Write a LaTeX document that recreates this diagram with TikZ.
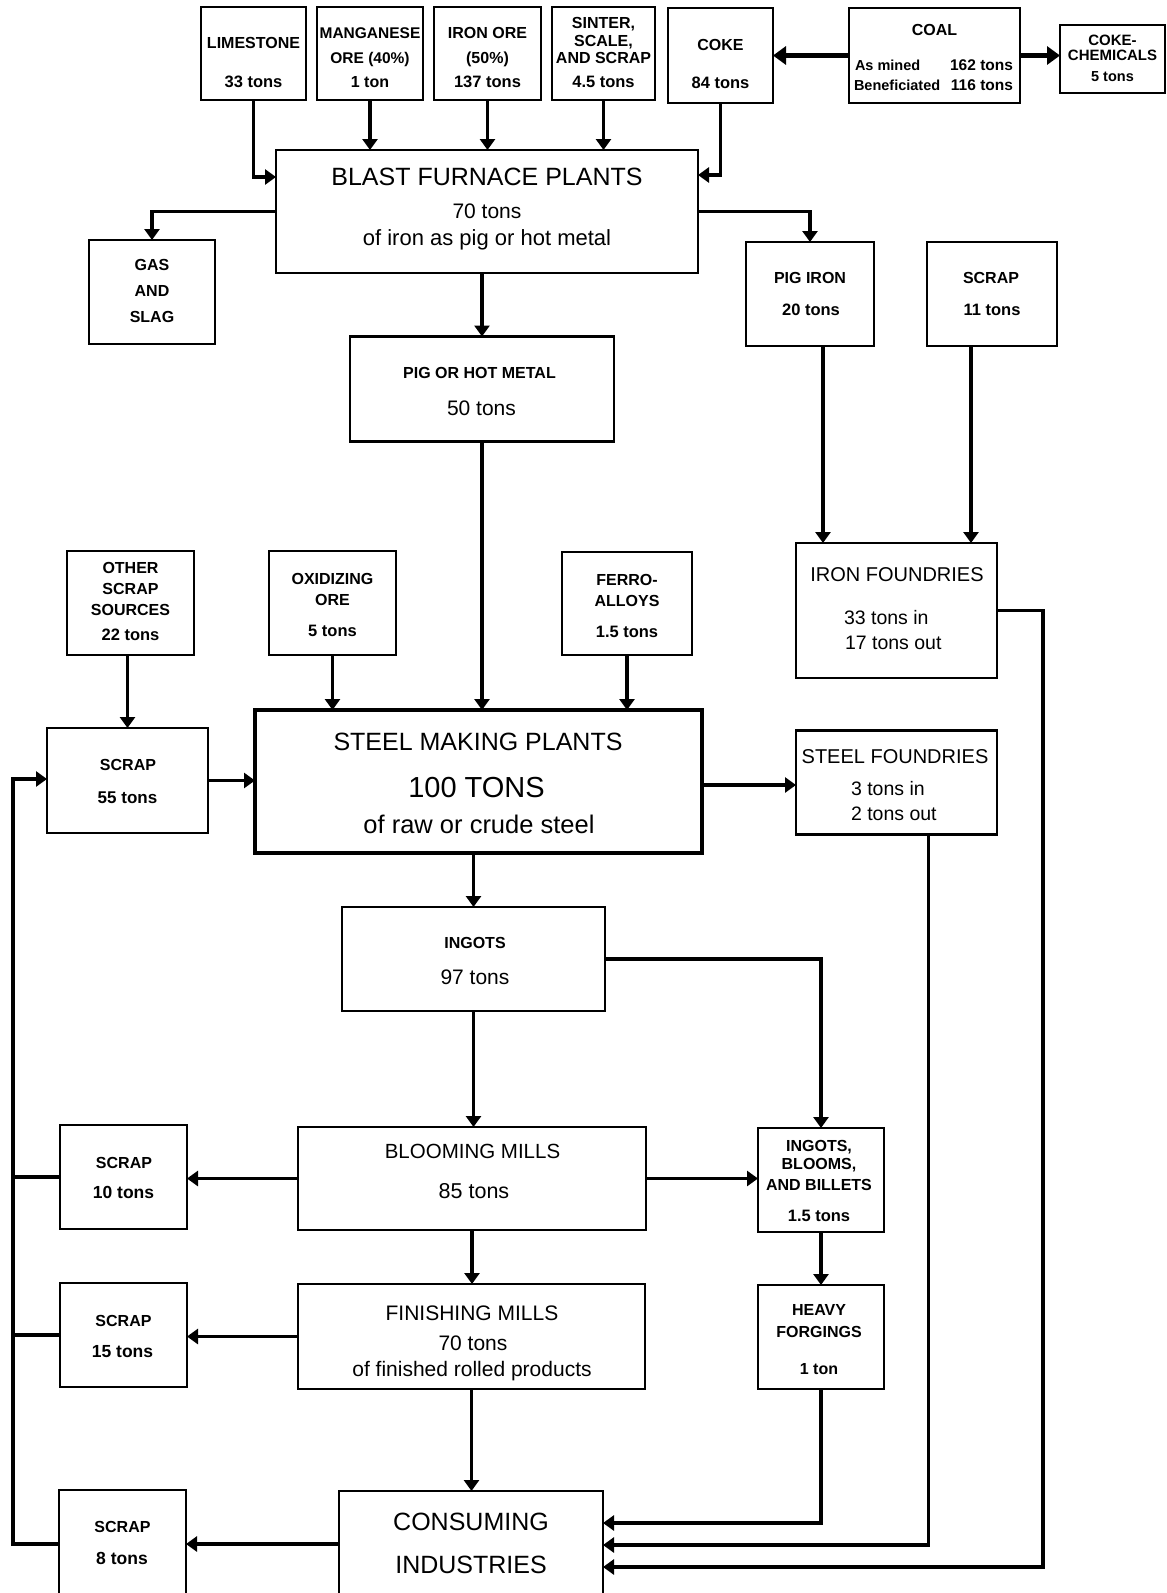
\documentclass[tikz,border=0pt]{standalone}
\usepackage{fontspec}
\setmainfont{Liberation Sans}
\usetikzlibrary{arrows.meta}
\newcounter{tlc}
\newcommand\txtline[5][base]{\stepcounter{tlc}\node[tx,anchor=#1,font=\fontsize{#4pt}{#4pt}\selectfont] (t\the\value{tlc}) at (#2,#3) {#5};}
\newcommand\txtbold[5][base]{\stepcounter{tlc}\node[tx,anchor=#1,font=\fontsize{#4pt}{#4pt}\selectfont\bfseries] (t\the\value{tlc}) at (#2,#3) {#5};}
\newcommand\bx[6][]{\node[box,#1,minimum width=#5pt,minimum height=#6pt] (#2) at (#3,#4) {};}
\tikzset{
  box/.style={draw, rectangle, line width=2.2pt, inner sep=0pt, outer sep=0pt},
  tx/.style={inner sep=0pt, outer sep=0pt},
  conn/.style={line width=3.2pt, -{Triangle[width=15pt,length=11pt]}},
  heavyconn/.style={line width=4.5pt, -{Triangle[width=18pt,length=13pt]}},
  plain/.style={line width=3.2pt},
}
\begin{document}
\begin{tikzpicture}[x=1pt,y=-1pt]
\useasboundingbox (0,0) rectangle (1167,1593);
\clip (0,0) rectangle (1167,1593);
% boxes
\bx{lime}{253.5}{53.5}{105}{93}
\bx{mang}{370}{53.5}{106}{93}
\bx{ironore}{487.5}{53.5}{107}{93}
\bx{sinter}{603.5}{53.5}{103}{93}
\bx{coke}{720.5}{55.5}{105}{95}
\bx{coal}{934.5}{55.5}{171}{95}
\bx{chem}{1112.5}{59}{105}{68}
\bx{bf}{487}{211.5}{422}{123}
\bx{gas}{152}{292}{126}{104}
\bx{pigiron}{810}{294}{128}{104}
\bx{scrapb}{992}{294}{130}{104}
\bx{pighot}{482}{389}{264}{105}
\bx{othersc}{130.5}{603}{127}{104}
\bx{oxid}{332.5}{603}{127}{104}
\bx{ferro}{627}{603.5}{130}{103}
\bx{ironf}{896.5}{610.5}{201}{135}
\bx{scrapa}{127.5}{780.5}{161}{105}
\bx[line width=4pt]{smp}{478.5}{781.5}{447}{143}
\bx{steelf}{896.5}{782.5}{201}{104}
\bx{ingots}{473.5}{959}{263}{104}
\bx{scrapc}{123.5}{1177}{127}{104}
\bx{bloom}{472}{1178.5}{348}{103}
\bx{ibb}{821}{1180}{126}{104}
\bx{scrapd}{123.5}{1335}{127}{104}
\bx{finish}{471.5}{1336.5}{347}{105}
\bx{hf}{821}{1337}{126}{104}
\bx{scrape}{122.5}{1547.5}{127}{115}
\bx{consum}{471}{1548}{264}{114}
% connectors
\draw[conn] (lime.south) |- (bf.west |- 0,177);
\draw[conn] (mang.south) -- (mang.south |- bf.north);
\draw[conn] (ironore.south) -- (ironore.south |- bf.north);
\draw[conn] (sinter.south) -- (sinter.south |- bf.north);
\draw[conn] (coke.south) |- (bf.east |- 0,175);
\draw[heavyconn] (coal.west) -- (coke.east);
\draw[heavyconn] (coal.east) -- (chem.west |- coal.east);
\draw[conn] (bf.west) -| (gas.north);
\draw[conn] (bf.east) -| (pigiron.north);
\draw[conn] (pighot.north |- bf.south) -- (pighot.north);
\draw[conn] (pighot.south) -- (pighot.south |- smp.north);
\coordinate (pa) at ([xshift=13pt]pigiron.south);
\draw[conn] (pa) -- (pa |- ironf.north);
\coordinate (sb) at ([xshift=-21pt]scrapb.south);
\draw[conn] (sb) -- (sb |- ironf.north);
\draw[conn] (scrapa.north |- othersc.south) -- (scrapa.north);
\draw[conn] (oxid.south) -- (oxid.south |- smp.north);
\draw[conn] (ferro.south) -- (ferro.south |- smp.north);
\draw[conn] (scrapa.east) -- (smp.west |- scrapa.east);
\draw[conn] (smp.east |- 0,785) -- (steelf.west |- 0,785);
\draw[conn] (ingots.north |- smp.south) -- (ingots.north);
\draw[conn] (ingots.south) -- (ingots.south |- bloom.north);
\draw[conn] (ingots.east) -| (ibb.north);
\draw[conn] (bloom.west) -- (scrapc.east |- bloom.west);
\draw[conn] (bloom.east) -- (ibb.west |- bloom.east);
\draw[conn] (bloom.south) -- (bloom.south |- finish.north);
\draw[conn] (finish.west) -- (scrapd.east |- finish.west);
\draw[conn] (ibb.south) -- (hf.north);
\draw[conn] (finish.south) -- (finish.south |- consum.north);
\draw[conn] (hf.south) |- (consum.east |- 0,1523);
\coordinate (sfa) at ([xshift=32pt]steelf.south);
\draw[conn] (sfa) |- (consum.east |- 0,1545);
\coordinate (ifa) at (1043,1567);
\draw[conn] (ironf.east) -| (ifa) -- (consum.east |- ifa);
\draw[conn] (consum.west |- 0,1544) -- (scrape.east |- 0,1544);
\coordinate (fb) at (13,779);
\draw[conn] (scrape.west |- 0,1544) -| (fb) -- (scrapa.west |- fb);
\draw[plain] (scrapc.west) -- (fb |- scrapc.west);
\draw[plain] (scrapd.west) -- (fb |- scrapd.west);
% texts
\txtbold{253.5}{48}{16}{LIMESTONE}
\txtbold{253.5}{87}{16.5}{33 tons}
\txtbold{370}{38}{15.5}{MANGANESE}
\txtbold{370}{63}{15.5}{ORE (40\%)}
\txtbold{370}{87}{16}{1 ton}
\txtbold{487.5}{38}{16}{IRON ORE}
\txtbold{487.5}{63}{16}{(50\%)}
\txtbold{487.5}{87}{16.5}{137 tons}
\txtbold{603.5}{28}{16}{SINTER,}
\txtbold{603.5}{46.5}{16}{SCALE,}
\txtbold{603.5}{63}{16}{AND SCRAP}
\txtbold{603.5}{87}{16.5}{4.5 tons}
\txtbold{720.5}{50}{16}{COKE}
\txtbold{720.5}{88}{16.5}{84 tons}
\txtbold{934.5}{35}{16}{COAL}
\txtbold[base west]{855}{70}{14.5}{As mined}
\txtbold[base east]{1013}{70}{15.5}{162 tons}
\txtbold[base west]{854}{90.5}{14.5}{Beneficiated}
\txtbold[base east]{1013}{90.5}{15.5}{116 tons}
\txtbold{1112.5}{45}{15}{COKE-}
\txtbold{1112.5}{60}{15}{CHEMICALS}
\txtbold{1112.5}{81.5}{14.5}{5 tons}
\txtline{487}{185}{25}{BLAST FURNACE PLANTS}
\txtline{487}{218.3}{21}{70 tons}
\txtline{487}{245}{22}{of iron as pig or hot metal}
\txtbold{152}{270}{16}{GAS}
\txtbold{152}{296}{16}{AND}
\txtbold{152}{322}{16}{SLAG}
\txtbold{810}{283.3}{16}{PIG IRON}
\txtbold{811}{315}{16.5}{20 tons}
\txtbold{991}{283.3}{16}{SCRAP}
\txtbold{992}{315}{16.5}{11 tons}
\txtbold{479.5}{378.3}{16}{PIG OR HOT METAL}
\txtline{481.5}{415}{21}{50 tons}
\txtbold{130.5}{573.3}{16}{OTHER}
\txtbold{130.5}{594}{16}{SCRAP}
\txtbold{130.5}{615}{16}{SOURCES}
\txtbold{130.5}{640}{16.5}{22 tons}
\txtbold{332.5}{584}{16}{OXIDIZING}
\txtbold{332.5}{605.7}{16}{ORE}
\txtbold{332.5}{636.7}{16.5}{5 tons}
\txtbold{627}{585.7}{16}{FERRO-}
\txtbold{627}{606.7}{16}{ALLOYS}
\txtbold{627}{637.3}{16.5}{1.5 tons}
\txtline{897}{581.7}{20}{IRON FOUNDRIES}
\txtline[base west]{844}{624}{19.5}{33 tons in}
\txtline[base west]{845}{649.3}{19.5}{17 tons out}
\txtline{895}{763.3}{20}{STEEL FOUNDRIES}
\txtline[base west]{851}{795}{19.5}{3 tons in}
\txtline[base west]{851}{820.7}{19.5}{2 tons out}
\txtbold{128}{770.7}{16}{SCRAP}
\txtbold{127.5}{803.3}{17}{55 tons}
\txtline{478}{750.7}{25}{STEEL MAKING PLANTS}
\txtline{476.5}{797.3}{29}{100 TONS}
\txtline{479}{833.3}{25.5}{of raw or crude steel}
\txtbold{475}{948.3}{16}{INGOTS}
\txtline{475}{984}{21}{97 tons}
\txtbold{124}{1168.3}{16}{SCRAP}
\txtbold{123.5}{1198.5}{17.5}{10 tons}
\txtline{472.5}{1158.3}{20.5}{BLOOMING MILLS}
\txtline{474}{1198.5}{21.5}{85 tons}
\txtbold{819}{1151.7}{16}{INGOTS,}
\txtbold{819}{1169.3}{16}{BLOOMS,}
\txtbold{819}{1190}{16}{AND BILLETS}
\txtbold{819}{1221.7}{16.5}{1.5 tons}
\txtbold{123.5}{1326.7}{16}{SCRAP}
\txtbold{122.5}{1357.3}{17.5}{15 tons}
\txtline{472}{1320}{21}{FINISHING MILLS}
\txtline{473}{1350}{21}{70 tons}
\txtline{472}{1376}{21}{of finished rolled products}
\txtbold{819}{1315}{16}{HEAVY}
\txtbold{819}{1337.3}{16}{FORGINGS}
\txtbold{819}{1374}{16}{1 ton}
\txtbold{122.5}{1532.7}{16}{SCRAP}
\txtbold{122}{1564}{17.5}{8 tons}
\txtline{471}{1530.7}{25}{CONSUMING}
\txtline{471}{1573.3}{25}{INDUSTRIES}
\end{tikzpicture}
\end{document}
